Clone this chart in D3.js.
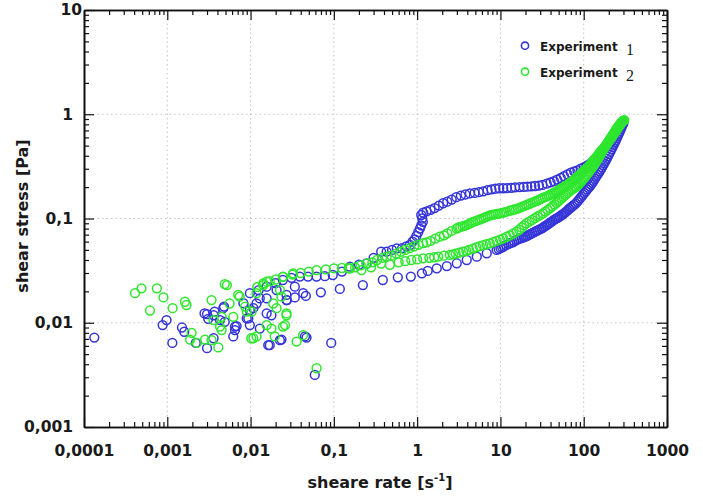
<!DOCTYPE html>
<html>
<head>
<meta charset="utf-8">
<script src="https://cdn.jsdelivr.net/npm/d3@7"></script>
<style>
  body { margin: 0; background: #fff; }
  text { font-family: "DejaVu Sans", sans-serif; font-weight: bold; fill: #1a1a1a; }
</style>
</head>
<body>
<script>
// ---- data ----
const xMajor = [1e-4, 1e-3, 1e-2, 1e-1, 1, 10, 100, 1000];
const xTickLabels = ["0,0001", "0,001", "0,01", "0,1", "1", "10", "100", "1000"];
const yMajor = [1e-3, 1e-2, 1e-1, 1, 10];
const yTickLabels = ["0,001", "0,01", "0,1", "1", "10"];
const seriesNames = ["Experiment", "Experiment"];
const seriesNumbers = ["1", "2"];
const seriesColors = ["#3434d8", "#2ee62e"];

// experiment 1: scattered low-rate points, ramp up, ramp down
const exp1Scatter = [[0.000133,0.0072],[0.00088,0.0095],[0.00098,0.0106],[0.00115,0.0064],[0.0015,0.009],[0.0016,0.0082],[0.0022,0.0064],[0.0028,0.0123],[0.003,0.0057],[0.003,0.0121],[0.0031,0.0109],[0.0036,0.0071],[0.0036,0.0118],[0.0037,0.0128],[0.0043,0.0106],[0.0047,0.0138],[0.0048,0.0143],[0.0049,0.0102],[0.0062,0.0074],[0.0065,0.0085],[0.0065,0.0092],[0.0068,0.0093],[0.0082,0.0154],[0.009,0.011],[0.0094,0.011],[0.0098,0.0095],[0.0098,0.0132],[0.0108,0.0138],[0.0118,0.0153],[0.0129,0.0171],[0.0129,0.0088],[0.0156,0.0171],[0.0156,0.0123],[0.0163,0.0061],[0.017,0.0061],[0.0178,0.0118],[0.0205,0.0206],[0.0225,0.0068],[0.0235,0.0069],[0.027,0.0165],[0.027,0.0185],[0.034,0.0222],[0.0428,0.0192],[0.045,0.0074],[0.047,0.0072],[0.059,0.00316],[0.093,0.0064]];
const exp1Up = [[0.0273,0.0165],[0.034,0.0175],[0.0461,0.0181],[0.0698,0.0196],[0.118,0.0211],[0.223,0.023],[0.387,0.0257],[0.586,0.0273],[0.84,0.0277],[1.14,0.0298],[1.34,0.0314],[1.72,0.0333],[2.27,0.035],[2.99,0.0372],[3.94,0.04],[5.2,0.043],[6.85,0.0464],[9.0,0.050],[9.5,0.051],[10,0.052],[10.5,0.053],[11,0.054],[11.7,0.0555],[12.5,0.057],[13.2,0.058],[14,0.059],[14.7,0.0605],[15.5,0.062],[16.2,0.063],[17,0.064],[18,0.065],[19,0.066],[20,0.067],[21,0.068],[22,0.0695],[23,0.071],[24.2,0.0725],[25.5,0.074],[26.7,0.0755],[28,0.077],[29.5,0.0785],[31,0.080],[32.5,0.082],[34,0.084],[35.5,0.086],[37,0.088],[38.5,0.09],[40,0.092],[42,0.0945],[44,0.097],[46,0.099],[48,0.101],[50,0.103],[52,0.105],[54.5,0.108],[57,0.111],[59.5,0.114],[62,0.117],[64.5,0.1205],[67,0.124],[70,0.1275],[73,0.131],[76.5,0.135],[80,0.139],[83.5,0.1445],[87,0.150],[90.5,0.156],[94,0.162],[98,0.169],[102,0.176],[106,0.183],[110,0.19],[114,0.1965],[118,0.203],[122.5,0.2115],[127,0.22],[131.5,0.23],[136,0.24],[141,0.251],[146,0.262],[151,0.2735],[156,0.285],[161,0.297],[166,0.31],[171.5,0.325],[177,0.34],[183,0.357],[189,0.375],[195.5,0.395],[202,0.415],[208.5,0.437],[215,0.46],[222,0.485],[229,0.51],[236,0.535],[243,0.56],[250,0.59],[257,0.62],[264,0.65],[271,0.68],[278,0.715],[285,0.75],[292,0.785],[300,0.82]];
const exp1Down = [[300,0.86],[283,0.81],[267,0.76],[252,0.71],[237,0.66],[223,0.61],[210,0.57],[197,0.53],[185,0.49],[174,0.46],[163,0.43],[153,0.40],[143,0.38],[134,0.36],[125,0.345],[116,0.33],[108,0.32],[100,0.31],[92,0.30],[84,0.29],[77,0.283],[70,0.275],[64,0.265],[58,0.255],[53,0.245],[48,0.236],[44,0.228],[40,0.222],[36,0.216],[32,0.21],[29,0.207],[26,0.205],[23.5,0.203],[21,0.202],[19,0.201],[17,0.2],[15,0.199],[13.5,0.197],[12,0.196],[10.8,0.195],[9.7,0.195],[8.7,0.193],[7.8,0.19],[7,0.187],[6.2,0.182],[5.5,0.179],[4.9,0.176],[4.3,0.174],[3.8,0.17],[3.35,0.166],[2.95,0.16],[2.6,0.152],[2.3,0.145],[2.05,0.14],[1.82,0.133],[1.62,0.126],[1.45,0.121],[1.3,0.117],[1.18,0.114],[1.12,0.108],[1.15,0.1],[1.17,0.093],[1.12,0.086],[1.08,0.08],[1.03,0.074],[0.98,0.068],[0.93,0.063],[0.88,0.06],[0.82,0.0557],[0.74,0.054],[0.66,0.052],[0.57,0.0518],[0.5,0.05],[0.43,0.048],[0.37,0.048],[0.3,0.042],[0.247,0.037],[0.2,0.036],[0.156,0.0345],[0.125,0.031],[0.097,0.0287],[0.078,0.028],[0.062,0.0277],[0.049,0.0277],[0.039,0.0277],[0.031,0.027],[0.0244,0.0257],[0.02,0.024],[0.0156,0.0222],[0.0125,0.0205],[0.0098,0.0192]];

// experiment 2
const exp2Scatter = [[0.00041,0.0192],[0.00049,0.0214],[0.00062,0.0131],[0.00075,0.0214],[0.0009,0.0175],[0.00116,0.0138],[0.00163,0.0159],[0.0017,0.0148],[0.00188,0.0069],[0.00196,0.008],[0.00226,0.0064],[0.00284,0.0069],[0.0034,0.0165],[0.0034,0.0068],[0.0036,0.0106],[0.0041,0.0058],[0.0043,0.0092],[0.0045,0.0085],[0.0045,0.0114],[0.0049,0.0235],[0.0052,0.023],[0.0056,0.0153],[0.0062,0.0114],[0.0071,0.0185],[0.0074,0.0178],[0.0086,0.0143],[0.009,0.0128],[0.0102,0.0071],[0.0103,0.0128],[0.0108,0.0071],[0.0118,0.0074],[0.0118,0.0192],[0.0142,0.023],[0.0156,0.0248],[0.0156,0.0095],[0.0178,0.0088],[0.0187,0.0153],[0.0195,0.0074],[0.0205,0.0138],[0.0225,0.0206],[0.0235,0.0178],[0.0245,0.0275],[0.0245,0.0092],[0.026,0.0095],[0.027,0.0118],[0.027,0.0123],[0.0325,0.0298],[0.0357,0.0066],[0.0428,0.0076],[0.062,0.00366]];
const exp2Up = [[0.156,0.033],[0.215,0.032],[0.28,0.034],[0.37,0.037],[0.47,0.036],[0.6,0.038],[0.72,0.039],[0.85,0.04],[1.0,0.0405],[1.18,0.0415],[1.4,0.042],[1.6,0.0425],[1.79,0.043],[2.1,0.044],[2.47,0.0447],[2.7,0.0453],[2.9,0.046],[3.2,0.047],[3.56,0.048],[3.9,0.049],[4.2,0.05],[4.65,0.0515],[5.15,0.053],[5.65,0.0543],[6.2,0.0555],[6.8,0.0566],[7.45,0.0578],[8.2,0.0593],[9,0.061],[9.9,0.0628],[10.8,0.0646],[11.9,0.0668],[13,0.069],[14.3,0.0718],[15.6,0.0747],[16.8,0.078],[18,0.082],[19.2,0.086],[20.5,0.09],[22.2,0.0935],[24,0.097],[26,0.101],[28,0.105],[30.2,0.1085],[32.4,0.112],[34.6,0.1165],[37,0.121],[39.5,0.126],[42,0.131],[44.5,0.136],[47,0.141],[49.2,0.1455],[51.5,0.15],[54.2,0.156],[57,0.162],[60,0.168],[63,0.174],[66.5,0.18],[70,0.187],[73,0.191],[76,0.195],[79,0.199],[81.7,0.202],[85,0.208],[88,0.215],[91.5,0.222],[95,0.23],[98.5,0.237],[102,0.245],[106,0.255],[110,0.265],[114,0.275],[118,0.285],[122.5,0.297],[127,0.31],[131.5,0.322],[136,0.335],[141,0.35],[146,0.365],[151,0.382],[156,0.4],[161.5,0.42],[167,0.44],[172.5,0.46],[178,0.48],[184,0.5],[190,0.52],[196.5,0.542],[203,0.565],[209.5,0.587],[216,0.61],[223,0.635],[230,0.66],[237,0.685],[244,0.71],[251.5,0.735],[259,0.76],[267,0.785],[275,0.81],[283,0.83],[291,0.85],[299,0.865],[307,0.88]];
const exp2Down = [[300,0.87],[292,0.85],[285,0.83],[277,0.805],[270,0.78],[262,0.755],[255,0.73],[248,0.705],[241,0.68],[234.5,0.66],[228,0.64],[222,0.62],[216,0.6],[210.5,0.585],[205,0.57],[199.5,0.55],[194,0.53],[189,0.515],[184,0.5],[179,0.485],[174,0.47],[169.5,0.46],[165,0.45],[160.5,0.44],[156,0.43],[151.5,0.415],[147,0.4],[143,0.39],[139,0.38],[135,0.37],[131,0.36],[127.5,0.35],[124,0.34],[120.5,0.33],[117,0.32],[113.5,0.312],[110,0.305],[106.5,0.297],[103,0.29],[100,0.284],[97,0.278],[94,0.271],[91,0.265],[88.5,0.259],[86,0.253],[83.5,0.248],[81,0.243],[78.5,0.238],[76,0.233],[73.5,0.228],[71,0.224],[68.5,0.22],[66,0.215],[63.5,0.21],[61,0.206],[58.5,0.202],[56,0.198],[54,0.194],[52,0.19],[50,0.186],[48,0.183],[46,0.18],[44,0.176],[42,0.173],[40,0.17],[38,0.166],[36,0.163],[34,0.16],[32,0.157],[30.5,0.154],[29,0.151],[27.5,0.148],[26,0.146],[24.5,0.143],[23,0.14],[21.7,0.137],[20.5,0.135],[19.4,0.132],[18.3,0.13],[17.3,0.127],[16.3,0.125],[15.4,0.123],[14.5,0.122],[13.7,0.12],[12.9,0.119],[11.8,0.116],[11.1,0.1145],[10.5,0.113],[9.9,0.112],[9.3,0.111],[8.8,0.11],[8.3,0.109],[7.85,0.108],[7.45,0.107],[7,0.105],[6.6,0.103],[6.25,0.101],[5.9,0.099],[5.6,0.0975],[5.3,0.096],[5,0.0945],[4.7,0.093],[4.45,0.091],[4.2,0.089],[3.95,0.087],[3.7,0.085],[3.5,0.084],[3.3,0.083],[3.1,0.0815],[2.97,0.08],[2.6,0.076],[2.3,0.072],[2.1,0.069],[1.87,0.067],[1.65,0.064],[1.45,0.061],[1.3,0.059],[1.18,0.058],[1.04,0.056],[0.92,0.054],[0.82,0.052],[0.72,0.05],[0.64,0.048],[0.56,0.046],[0.49,0.044],[0.43,0.043],[0.38,0.042],[0.33,0.04],[0.29,0.038],[0.25,0.037],[0.21,0.0355],[0.18,0.034],[0.15,0.0335],[0.125,0.0335],[0.1,0.0333],[0.08,0.0325],[0.062,0.032],[0.05,0.031],[0.04,0.03],[0.032,0.029],[0.0245,0.0277],[0.02,0.026],[0.017,0.025],[0.0142,0.0239],[0.012,0.022]];

// ---- layout ----
const SIZE = { width: 703, height: 497 };
const MARGIN = { left: 84, right: 36, top: 10, bottom: 70 };
const plotRight = SIZE.width - MARGIN.right;
const plotBottom = SIZE.height - MARGIN.bottom;

const svg = d3.select("body").append("svg")
    .attr("width", SIZE.width)
    .attr("height", SIZE.height);

const x = d3.scaleLog().domain([1e-4, 1e3]).range([MARGIN.left, plotRight]);
const y = d3.scaleLog().domain([1e-3, 10]).range([plotBottom, MARGIN.top]);

const isMajor = v => Math.abs(Math.log10(v) - Math.round(Math.log10(v))) < 1e-6;
const xMinor = x.ticks().filter(v => !isMajor(v));
const yMinor = y.ticks().filter(v => !isMajor(v));

// dotted grid at the decades
const grid = svg.append("g")
    .attr("stroke", "#c4c4c4")
    .attr("stroke-dasharray", "1.5,3")
    .attr("stroke-width", 1);
grid.selectAll(".gx").data(xMajor.slice(1, -1)).join("line")
    .attr("x1", d => x(d)).attr("x2", d => x(d))
    .attr("y1", MARGIN.top).attr("y2", plotBottom);
grid.selectAll(".gy").data(yMajor.slice(1, -1)).join("line")
    .attr("y1", d => y(d)).attr("y2", d => y(d))
    .attr("x1", MARGIN.left).attr("x2", plotRight);

// data points, experiment 1 below experiment 2
const allSeries = [
    exp1Scatter.concat(exp1Up, exp1Down),
    exp2Scatter.concat(exp2Up, exp2Down)
];
allSeries.forEach((pts, i) => {
    svg.append("g")
        .selectAll("circle")
        .data(pts)
        .join("circle")
            .attr("cx", d => x(d[0]))
            .attr("cy", d => y(d[1]))
            .attr("r", 4.4)
            .attr("fill", "none")
            .attr("stroke", seriesColors[i])
            .attr("stroke-width", 1.5);
});

// axes: ticks point inward on all four sides
const styleAxis = g => {
    g.select(".domain").attr("stroke", "#111").attr("stroke-width", 1.6);
    g.selectAll(".tick line").attr("stroke", "#111").attr("stroke-width", 1.2);
};
const xLabel = d => xTickLabels[xMajor.indexOf(d)];
const yLabel = d => yTickLabels[yMajor.indexOf(d)];

const addAxis = (axisFn, scale, translate, minor, major, fmt, pad) => {
    svg.append("g").attr("transform", translate)
        .call(axisFn(scale).tickValues(minor).tickSizeInner(-5).tickSizeOuter(0).tickFormat(""))
        .call(styleAxis);
    return svg.append("g").attr("transform", translate)
        .call(axisFn(scale).tickValues(major).tickSizeInner(-10).tickSizeOuter(0)
            .tickPadding(pad).tickFormat(fmt))
        .call(styleAxis);
};

addAxis(d3.axisBottom, x, `translate(0,${plotBottom})`, xMinor, xMajor, xLabel, 17.5);
addAxis(d3.axisTop, x, `translate(0,${MARGIN.top})`, xMinor, xMajor, () => "", 0);
const leftAxis = addAxis(d3.axisLeft, y, `translate(${MARGIN.left},0)`, yMinor, yMajor, yLabel, 11);
addAxis(d3.axisRight, y, `translate(${plotRight},0)`, yMinor, yMajor, () => "", 0);

svg.selectAll(".tick text").style("font-size", "15.5px").attr("fill", "#1a1a1a");
leftAxis.selectAll(".tick text").filter(d => d === 10).attr("x", -2);

// axis titles
const xTitle = svg.append("text")
    .attr("x", 380).attr("y", 488)
    .attr("text-anchor", "middle")
    .style("font-size", "16px")
    .text("sheare rate [s");
xTitle.append("tspan").attr("dy", -7).style("font-size", "10px").text("-1");
xTitle.append("tspan").attr("dy", 7).text("]");

svg.append("text")
    .attr("transform", "translate(28,216) rotate(-90)")
    .attr("text-anchor", "middle")
    .style("font-size", "16px")
    .text("shear stress [Pa]");

// legend
const legend = svg.append("g").selectAll("g")
    .data(seriesNames)
    .join("g")
    .attr("transform", (d, i) => `translate(525,${45.7 + i * 26})`);
legend.append("circle")
    .attr("r", 3.6)
    .attr("fill", "none")
    .attr("stroke", (d, i) => seriesColors[i])
    .attr("stroke-width", 1.6);
legend.append("text")
    .attr("x", 15).attr("y", 5)
    .style("font-size", "12px")
    .attr("fill", "#333")
    .text(d => d);
legend.append("text")
    .attr("x", 101).attr("y", 9)
    .style("font-family", "'Liberation Serif', serif")
    .style("font-weight", "normal")
    .style("font-size", "16px")
    .text((d, i) => seriesNumbers[i]);
</script>
</body>
</html>
